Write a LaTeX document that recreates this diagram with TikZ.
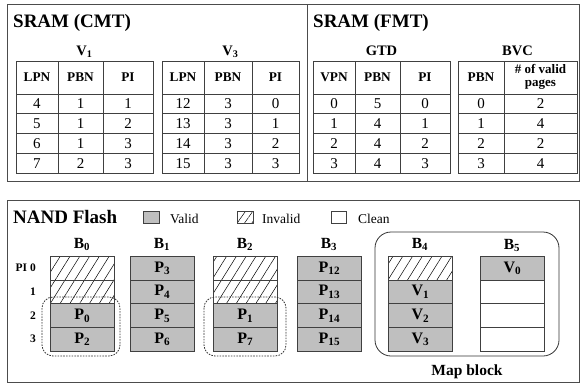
\documentclass[tikz,border=0pt]{standalone}
\usepackage{fontspec}
\setmainfont{Liberation Serif}
\usetikzlibrary{patterns.meta}

% one page of a block: name, left x, row index, style, label
\newcommand\pagecell[5]{%
  \node[#4, anchor=north west] (#1) at (#2,{256+23.7*#3}) {#5};}

\begin{document}
\begin{tikzpicture}[x=1pt,y=-1pt,
  panel/.style={draw=black!70,line width=0.9pt},
  tbl/.style={draw=black!75,line width=0.8pt},
  ttl/.style={font=\fontsize{19}{21}\selectfont\bfseries,anchor=base west,inner sep=0},
  tname/.style={font=\fontsize{14.5}{16}\selectfont\bfseries,anchor=base,inner sep=0},
  hd/.style={font=\fontsize{13.3}{14}\selectfont\bfseries,inner sep=0,align=center},
  num/.style={font=\fontsize{15}{16}\selectfont,inner sep=0},
  cellbase/.style={draw=black!75,line width=0.8pt,minimum width=64pt,minimum height=23.7pt,inner sep=0,
    font=\fontsize{16}{17}\selectfont\bfseries},
  valid/.style={cellbase,fill=black!25},
  invalid/.style={cellbase,pattern={Lines[angle=58,distance=8.3pt,line width=0.5pt]}},
  clean/.style={cellbase,fill=white},
  blk/.style={font=\fontsize{15.5}{17}\selectfont\bfseries,anchor=base,inner sep=0},
  pil/.style={font=\fontsize{11.5}{12}\selectfont\bfseries,anchor=east,inner sep=0},
  lgd/.style={draw=black!75,line width=0.8pt},
  lgdtxt/.style={font=\fontsize{13.5}{15}\selectfont,anchor=base west,inner sep=0},
  grp/.style={draw=black!80,line width=0.8pt,dash pattern=on 1.6pt off 1.2pt,rounded corners=11pt},
]
\useasboundingbox (0,0) rectangle (582,384);

% ---------------- SRAM panels ----------------
\draw[panel] (7,4) rectangle (579,181.5);
\draw[panel] (307,4) -- (307,181.5);
\node[ttl] (cmt) at (13,27) {SRAM (CMT)};
\node[ttl] (fmt) at (313,27) {SRAM (FMT)};

% V1 table
\node[tname] (v1) at (84.5,55) {V\textsubscript{1}};
\draw[tbl] (16,61) rectangle (153,173.2);
\foreach \yy in {94,113.8,133.6,153.4} \draw[tbl] (16,\yy) -- (153,\yy);
\foreach \xx in {58,103} \draw[tbl] (\xx,61) -- (\xx,173.2);
\node[hd] (v1h1) at (37,77.5) {LPN};
\node[hd] (v1h2) at (80.5,77.5) {PBN};
\node[hd] (v1h3) at (128,77.5) {PI};
\foreach \a/\b/\c [count=\i] in {4/1/1,5/1/2,6/1/3,7/2/3} {
  \node[num] (v1a\i) at (37,{94+19.8*(\i-0.5)}) {\a};
  \node[num] (v1b\i) at (80.5,{94+19.8*(\i-0.5)}) {\b};
  \node[num] (v1c\i) at (128,{94+19.8*(\i-0.5)}) {\c};
}

% V3 table
\node[tname] (v3) at (230.5,55) {V\textsubscript{3}};
\draw[tbl] (162,61) rectangle (299,173.2);
\foreach \yy in {94,113.8,133.6,153.4} \draw[tbl] (162,\yy) -- (299,\yy);
\foreach \xx in {204,252} \draw[tbl] (\xx,61) -- (\xx,173.2);
\node[hd] (v3h1) at (183,77.5) {LPN};
\node[hd] (v3h2) at (228,77.5) {PBN};
\node[hd] (v3h3) at (275.5,77.5) {PI};
\foreach \a/\b/\c [count=\i] in {12/3/0,13/3/1,14/3/2,15/3/3} {
  \node[num] (v3a\i) at (183,{94+19.8*(\i-0.5)}) {\a};
  \node[num] (v3b\i) at (228,{94+19.8*(\i-0.5)}) {\b};
  \node[num] (v3c\i) at (275.5,{94+19.8*(\i-0.5)}) {\c};
}

% GTD table
\node[tname] (gtd) at (381.5,55) {GTD};
\draw[tbl] (313,61) rectangle (450,173.2);
\foreach \yy in {94,113.8,133.6,153.4} \draw[tbl] (313,\yy) -- (450,\yy);
\foreach \xx in {355,400} \draw[tbl] (\xx,61) -- (\xx,173.2);
\node[hd] (gh1) at (334,77.5) {VPN};
\node[hd] (gh2) at (377.5,77.5) {PBN};
\node[hd] (gh3) at (425,77.5) {PI};
\foreach \a/\b/\c [count=\i] in {0/5/0,1/4/1,2/4/2,3/4/3} {
  \node[num] (ga\i) at (334,{94+19.8*(\i-0.5)}) {\a};
  \node[num] (gb\i) at (377.5,{94+19.8*(\i-0.5)}) {\b};
  \node[num] (gc\i) at (425,{94+19.8*(\i-0.5)}) {\c};
}

% BVC table
\node[tname] (bvc) at (517.5,55) {BVC};
\draw[tbl] (458,61) rectangle (577,173.2);
\foreach \yy in {94,113.8,133.6,153.4} \draw[tbl] (458,\yy) -- (577,\yy);
\draw[tbl] (504,61) -- (504,173.2);
\node[hd] (bh1) at (481,77.5) {PBN};
\node[hd,font=\fontsize{13}{13.5}\selectfont\bfseries] (bh2) at (540.5,77) {\# of valid\\pages};
\foreach \a/\b [count=\i] in {0/2,1/4,2/2,3/4} {
  \node[num] (ba\i) at (481,{94+19.8*(\i-0.5)}) {\a};
  \node[num] (bb\i) at (540.5,{94+19.8*(\i-0.5)}) {\b};
}

% ---------------- NAND flash panel ----------------
\draw[panel] (7,200) rectangle (579,382);
\node[ttl] (nand) at (13,223) {NAND Flash};

% legend
\draw[lgd,fill=black!25] (143,211) rectangle (159,223);
\node[lgdtxt] (lv) at (170,223) {Valid};
\draw[lgd,pattern={Lines[angle=55,distance=6pt,line width=0.5pt]}] (237,211) rectangle (253,223);
\node[lgdtxt] (li) at (262,223) {Invalid};
\draw[lgd,fill=white] (331,211) rectangle (346,223);
\node[lgdtxt] (lc) at (358,223) {Clean};

% map block outline
\draw[draw=black!80,line width=0.8pt,rounded corners=16pt] (375,232) rectangle (559,356);
\node[blk] (mapb) at (467,375) {Map block};

% block labels
\node[blk] (b0) at (82,248) {B\textsubscript{0}};
\node[blk] (b1) at (162,248) {B\textsubscript{1}};
\node[blk] (b2) at (245,248) {B\textsubscript{2}};
\node[blk] (b3) at (329,248) {B\textsubscript{3}};
\node[blk] (b4) at (420,248) {B\textsubscript{4}};
\node[blk] (b5) at (512,249) {B\textsubscript{5}};

% page index labels
\node[pil] (pi0) at (36,268) {PI 0};
\node[pil] (pi1) at (36,292) {1};
\node[pil] (pi2) at (36,315.5) {2};
\node[pil] (pi3) at (36,339) {3};

% B0
\pagecell{c00}{50}{0}{invalid}{}
\pagecell{c01}{50}{1}{invalid}{}
\pagecell{c02}{50}{2}{valid}{P\textsubscript{0}}
\pagecell{c03}{50}{3}{valid}{P\textsubscript{2}}
% B1
\pagecell{c10}{130}{0}{valid}{P\textsubscript{3}}
\pagecell{c11}{130}{1}{valid}{P\textsubscript{4}}
\pagecell{c12}{130}{2}{valid}{P\textsubscript{5}}
\pagecell{c13}{130}{3}{valid}{P\textsubscript{6}}
% B2
\pagecell{c20}{213}{0}{invalid}{}
\pagecell{c21}{213}{1}{invalid}{}
\pagecell{c22}{213}{2}{valid}{P\textsubscript{1}}
\pagecell{c23}{213}{3}{valid}{P\textsubscript{7}}
% B3
\pagecell{c30}{297}{0}{valid}{P\textsubscript{12}}
\pagecell{c31}{297}{1}{valid}{P\textsubscript{13}}
\pagecell{c32}{297}{2}{valid}{P\textsubscript{14}}
\pagecell{c33}{297}{3}{valid}{P\textsubscript{15}}
% B4
\pagecell{c40}{388}{0}{invalid}{}
\pagecell{c41}{388}{1}{valid}{V\textsubscript{1}}
\pagecell{c42}{388}{2}{valid}{V\textsubscript{2}}
\pagecell{c43}{388}{3}{valid}{V\textsubscript{3}}
% B5
\pagecell{c50}{480}{0}{valid}{V\textsubscript{0}}
\pagecell{c51}{480}{1}{clean}{}
\pagecell{c52}{480}{2}{clean}{}
\pagecell{c53}{480}{3}{clean}{}

% dashed groups of valid pages
\draw[grp] (42,297) rectangle (120,356);
\draw[grp] (204,297) rectangle (286,356);
\end{tikzpicture}
\end{document}
